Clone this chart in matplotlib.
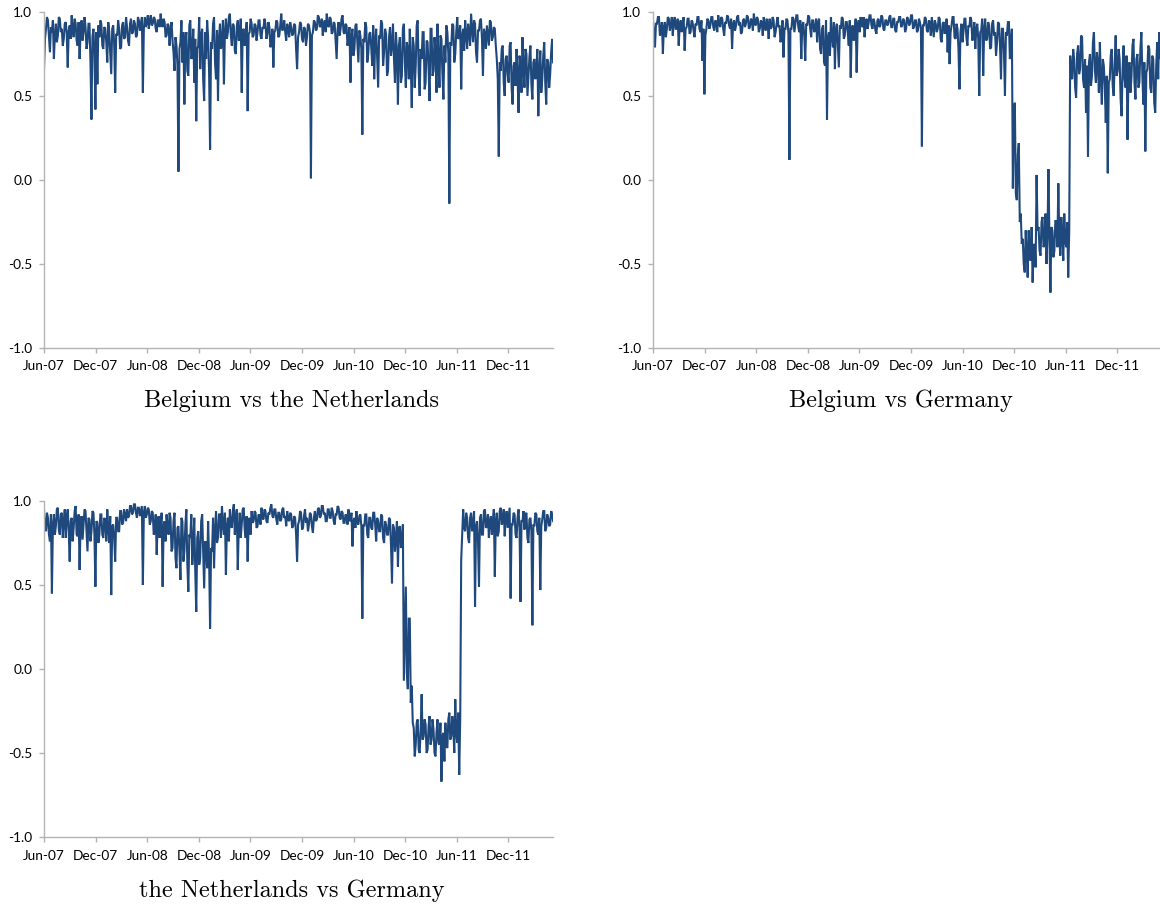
import matplotlib
matplotlib.use("Agg")
import matplotlib.pyplot as plt
import matplotlib.dates as mdates
import matplotlib.ticker as mticker
import pandas as pd

plt.rcParams["axes.unicode_minus"] = False

# Correlation readings, two per week, starting June 2007
start_date = "2007-06-01"
step = "84h"

be_nl = [
    0.66, 0.84, 0.90, 0.97, 0.95, 0.85, 0.76, 0.91, 0.88, 0.95, 0.72, 0.86,
    0.93, 0.82, 0.86, 0.97, 0.96, 0.88, 0.90, 0.80, 0.84, 0.93, 0.94, 0.87,
    0.67, 0.89, 0.92, 0.84, 0.98, 0.90, 0.85, 0.96, 0.93, 0.83, 0.80, 0.94,
    0.72, 0.88, 0.95, 0.83, 0.88, 0.97, 0.91, 0.78, 0.82, 0.93, 0.93, 0.70,
    0.36, 0.85, 0.90, 0.75, 0.42, 0.88, 0.57, 0.92,
    0.85, 0.95, 0.93, 0.80, 0.78, 0.91, 0.90, 0.82, 0.70, 0.94, 0.88, 0.76,
    0.63, 0.90, 0.92, 0.81, 0.52, 0.87, 0.86, 0.95, 0.90, 0.78, 0.79, 0.92,
    0.94, 0.84, 0.85, 0.97, 0.91, 0.83, 0.80, 0.93, 0.96, 0.87, 0.88, 0.95,
    0.93, 0.85, 0.86, 0.97,
    0.95, 0.89, 0.92, 0.97, 0.52, 0.90, 0.97, 0.91, 0.94, 0.98, 0.90, 0.95,
    0.98, 0.92, 0.93, 0.97, 0.96, 0.90, 0.88, 0.95, 0.95, 0.91, 0.99, 0.93,
    0.91, 0.96, 0.94, 0.85, 0.86, 0.93, 0.92, 0.80, 0.89, 0.94, 0.83, 0.76,
    0.65, 0.85, 0.80, 0.68, 0.05, 0.78,
    0.82, 0.95, 0.70, 0.88, 0.45, 0.83, 0.88, 0.65, 0.62, 0.92, 0.95, 0.72,
    0.75, 0.90, 0.58, 0.84, 0.35, 0.78, 0.80, 0.97, 0.66, 0.86, 0.90, 0.60,
    0.47, 0.88, 0.72, 0.95, 0.85, 0.64, 0.18, 0.82, 0.78, 0.93, 0.97, 0.70,
    0.60, 0.89, 0.47, 0.84,
    0.93, 0.78, 0.82, 0.95, 0.57, 0.88, 0.96, 0.84, 0.88, 0.97, 0.99, 0.86,
    0.80, 0.93, 0.92, 0.77, 0.75, 0.91, 0.95, 0.83, 0.86, 0.96, 0.52, 0.89,
    0.90, 0.80, 0.84, 0.94, 0.41, 0.87, 0.88, 0.96, 0.93, 0.85,
    0.86, 0.93, 0.92, 0.83, 0.88, 0.95, 0.95, 0.86, 0.84, 0.91, 0.90, 0.96,
    0.93, 0.84, 0.87, 0.94, 0.91, 0.79, 0.82, 0.90, 0.67, 0.88, 0.89, 0.95,
    0.94, 0.85, 0.86, 0.92, 0.99, 0.89, 0.90, 0.95, 0.88, 0.83, 0.93, 0.90,
    0.85, 0.94, 0.91, 0.86, 0.87, 0.93, 0.92, 0.78,
    0.66, 0.85, 0.88, 0.94, 0.93, 0.84, 0.82, 0.91, 0.90, 0.80, 0.85, 0.93,
    0.92, 0.88, 0.01, 0.86,
    0.88, 0.95, 0.94, 0.89, 0.90, 0.98, 0.97, 0.91, 0.92, 0.96, 0.86, 0.93,
    0.95, 0.88, 0.99, 0.92, 0.91, 0.97, 0.96, 0.87, 0.88, 0.94, 0.93, 0.83,
    0.72, 0.90, 0.94, 0.86, 0.90, 0.96, 0.98, 0.88, 0.87, 0.93, 0.92, 0.80,
    0.85, 0.91,
    0.58, 0.86, 0.90, 0.74, 0.78, 0.92, 0.93, 0.82, 0.70, 0.89, 0.86, 0.78,
    0.27, 0.84, 0.82, 0.94, 0.91, 0.70, 0.75, 0.87, 0.88, 0.79, 0.68, 0.92,
    0.60, 0.83, 0.90, 0.72, 0.55, 0.86, 0.84, 0.95, 0.93, 0.68, 0.76, 0.90,
    0.87, 0.62, 0.65, 0.85, 0.91, 0.74, 0.80, 0.93, 0.72, 0.58, 0.88, 0.76,
    0.45, 0.80, 0.85, 0.58, 0.62, 0.90, 0.93, 0.70, 0.55, 0.82, 0.78, 0.60,
    0.90, 0.68, 0.43, 0.85, 0.80, 0.55, 0.68, 0.92, 0.95, 0.64, 0.50, 0.78,
    0.72, 0.88, 0.88, 0.54, 0.58, 0.83, 0.82, 0.66, 0.47, 0.90, 0.90, 0.62,
    0.65, 0.85, 0.76, 0.52, 0.93, 0.70, 0.55, 0.86, 0.84, 0.63, 0.48, 0.80,
    0.70, 0.92, 0.88, 0.75,
    -0.14, 0.82,
    0.80, 0.93, 0.92, 0.70, 0.75, 0.88, 0.97, 0.84, 0.85, 0.92, 0.54, 0.86,
    0.90, 0.77, 0.95, 0.87, 0.78, 0.93, 0.88, 0.80, 0.99, 0.90, 0.82, 0.95,
    0.93, 0.76, 0.70, 0.89, 0.89, 0.95, 0.96, 0.84, 0.62, 0.90, 0.87, 0.78,
    0.92, 0.86, 0.80, 0.95, 0.94, 0.83, 0.85, 0.91, 0.90, 0.80,
    0.72, 0.60, 0.14, 0.70, 0.65, 0.78, 0.80, 0.58, 0.50, 0.72, 0.74, 0.63,
    0.58, 0.80, 0.82, 0.55, 0.45, 0.68, 0.70, 0.56, 0.78, 0.62, 0.40, 0.74,
    0.68, 0.52, 0.85, 0.66, 0.55, 0.78, 0.75, 0.50, 0.62, 0.73, 0.80, 0.57,
    0.48, 0.70, 0.72, 0.60, 0.66, 0.78, 0.38, 0.65, 0.77, 0.52, 0.60, 0.74,
    0.82, 0.58, 0.45, 0.72, 0.70, 0.55, 0.63, 0.76, 0.84, 0.70,
]

be_de = [
    0.95, 0.88, 0.79, 0.93, 0.93, 0.97, 0.97, 0.86, 0.88, 0.94, 0.75, 0.91,
    0.94, 0.85, 0.90, 0.97, 0.96, 0.89,
    0.92, 0.97, 0.86, 0.94, 0.97, 0.90, 0.90, 0.96, 0.80, 0.92, 0.95, 0.88,
    0.93, 0.97, 0.77, 0.90, 0.91, 0.96, 0.96, 0.87, 0.88, 0.95, 0.94, 0.89,
    0.85, 0.93, 0.92, 0.97, 0.97, 0.90,
    0.88, 0.95, 0.71, 0.90, 0.51, 0.86, 0.90, 0.96,
    0.95, 0.90, 0.92, 0.97, 0.97, 0.91, 0.89, 0.95, 0.94, 0.88, 0.98, 0.93,
    0.91, 0.97, 0.96, 0.90, 0.86, 0.94, 0.93, 0.98, 0.97, 0.92, 0.90, 0.96,
    0.78, 0.93, 0.95, 0.89, 0.92, 0.97, 0.98, 0.92, 0.94, 0.87, 0.88, 0.95,
    0.96, 0.91, 0.93, 0.98, 0.97, 0.90, 0.91, 0.96, 0.95, 0.89, 0.99, 0.93,
    0.92, 0.97, 0.96, 0.88, 0.90, 0.95, 0.94, 0.86, 0.97, 0.92, 0.89, 0.96,
    0.93, 0.84, 0.96, 0.90, 0.91, 0.97, 0.95, 0.85, 0.88, 0.93, 0.97, 0.91,
    0.92, 0.82, 0.86, 0.95, 0.73, 0.90, 0.90, 0.96, 0.95, 0.87,
    0.12, 0.90,
    0.90, 0.97, 0.96, 0.88, 0.93, 0.98, 0.98, 0.91, 0.88, 0.95, 0.72, 0.92,
    0.94, 0.86, 0.71, 0.93, 0.92, 0.98, 0.97, 0.90, 0.85, 0.95, 0.95, 0.88,
    0.90, 0.96,
    0.82, 0.94, 0.96, 0.78, 0.75, 0.90, 0.92, 0.70, 0.68, 0.95, 0.36, 0.85,
    0.88, 0.74, 0.97, 0.86, 0.79, 0.94, 0.66, 0.90, 0.93, 0.80, 0.67, 0.92,
    0.90, 0.97, 0.96, 0.84, 0.86, 0.94, 0.94, 0.88, 0.80, 0.95, 0.61, 0.90,
    0.92, 0.83, 0.88, 0.96, 0.64, 0.91, 0.95, 0.88, 0.97, 0.92, 0.91, 0.97,
    0.85, 0.93, 0.96, 0.90, 0.93, 0.98, 0.98, 0.92, 0.90, 0.96, 0.94, 0.89,
    0.87, 0.95, 0.96, 0.91, 0.92, 0.98, 0.97, 0.90, 0.89, 0.95, 0.95, 0.92,
    0.93, 0.97, 0.98, 0.91, 0.91, 0.96, 0.96, 0.89, 0.88, 0.94, 0.94, 0.97,
    0.97, 0.91, 0.92, 0.96, 0.95, 0.88, 0.90, 0.97, 0.96, 0.92, 0.93, 0.98,
    0.98, 0.90, 0.91, 0.95, 0.95, 0.88, 0.89, 0.96, 0.94, 0.90,
    0.20, 0.92,
    0.92, 0.97, 0.96, 0.89, 0.88, 0.95, 0.94, 0.86, 0.97, 0.91, 0.85, 0.95,
    0.93, 0.88, 0.90, 0.97, 0.96, 0.84, 0.82, 0.93, 0.94, 0.87, 0.89, 0.96,
    0.76, 0.92, 0.69, 0.88, 0.92, 0.97, 0.97, 0.85, 0.84, 0.93, 0.90, 0.78,
    0.54, 0.88, 0.93, 0.82, 0.88, 0.96, 0.96, 0.85, 0.80, 0.92, 0.91, 0.97,
    0.95, 0.83, 0.86, 0.94, 0.78, 0.90, 0.93, 0.84, 0.50, 0.88, 0.89, 0.96,
    0.62, 0.90, 0.96, 0.83, 0.84, 0.94, 0.92, 0.78, 0.79, 0.93, 0.95, 0.86,
    0.88, 0.74, 0.82, 0.94, 0.93, 0.80, 0.60, 0.90, 0.90, 0.76, 0.50, 0.88,
    0.86, 0.94, 0.94, 0.72, 0.80, 0.90,
    -0.05, 0.40, 0.46, -0.08, -0.12, 0.15, 0.22, -0.25, -0.20, -0.38,
    -0.35, -0.50, -0.55, -0.30, -0.42, -0.58, -0.30, -0.45, -0.48, -0.28,
    -0.61, -0.40, -0.38, -0.52,
    0.03, -0.30,
    -0.28, -0.42, -0.45, -0.25, -0.22, -0.40, -0.38, -0.20, -0.50, -0.32,
    0.065, -0.35, -0.67, -0.28, -0.30, -0.46, -0.42, -0.24, -0.25, -0.40,
    -0.02, -0.35, -0.45, -0.22, -0.33, -0.48, -0.20, -0.36, -0.40, -0.25,
    -0.58, -0.30,
    0.74, 0.62, 0.60, 0.78, 0.72, 0.55, 0.49, 0.75, 0.80, 0.63, 0.66, 0.86,
    0.85, 0.60, 0.55, 0.72, 0.40, 0.68, 0.14, 0.70, 0.75, 0.56, 0.62, 0.82,
    0.88, 0.65, 0.58, 0.76, 0.70, 0.52, 0.82, 0.60, 0.45, 0.72, 0.68, 0.55,
    0.34, 0.62, 0.04, 0.58, 0.60, 0.74, 0.78, 0.56, 0.50, 0.70, 0.86, 0.62,
    0.65, 0.78, 0.72, 0.48, 0.38, 0.66, 0.80, 0.60, 0.55, 0.74, 0.24, 0.68,
    0.70, 0.52, 0.62, 0.80, 0.84, 0.58, 0.48, 0.72, 0.75, 0.55, 0.58, 0.78,
    0.88, 0.62, 0.45, 0.70, 0.17, 0.64, 0.66, 0.80, 0.78, 0.55, 0.52, 0.74,
    0.72, 0.46, 0.40, 0.68, 0.82, 0.60, 0.88, 0.72, 0.85, 0.90,
]

nl_de = [
    0.95, 0.84, 0.82, 0.93, 0.90, 0.80, 0.76, 0.92, 0.45, 0.86,
    0.92, 0.80, 0.85, 0.95, 0.96, 0.83, 0.80, 0.92, 0.93, 0.78, 0.88, 0.95,
    0.78, 0.90, 0.95, 0.82, 0.64, 0.88, 0.90, 0.76, 0.84, 0.94, 0.97, 0.80,
    0.79, 0.92, 0.59, 0.86, 0.91, 0.77, 0.86, 0.95, 0.94, 0.82, 0.70, 0.90,
    0.89, 0.76, 0.82, 0.94, 0.93, 0.80, 0.49, 0.88, 0.87, 0.75, 0.80, 0.92,
    0.92, 0.80, 0.78, 0.90, 0.88, 0.76, 0.95, 0.84, 0.75, 0.91, 0.44, 0.85,
    0.86, 0.78, 0.64, 0.90, 0.90, 0.82, 0.82, 0.94, 0.94, 0.86, 0.87, 0.95,
    0.92, 0.88,
    0.95, 0.90, 0.91, 0.97, 0.97, 0.92, 0.93, 0.98, 0.98, 0.93, 0.90, 0.96,
    0.96, 0.91, 0.94, 0.97, 0.50, 0.93, 0.97, 0.90, 0.92, 0.96, 0.95, 0.86,
    0.88, 0.94, 0.93, 0.80, 0.82, 0.92, 0.68, 0.88, 0.91, 0.78, 0.86, 0.93,
    0.49, 0.85, 0.88, 0.76, 0.92, 0.84, 0.80, 0.93, 0.90, 0.70,
    0.72, 0.88, 0.93, 0.66, 0.60, 0.84, 0.85, 0.70, 0.53, 0.90, 0.88, 0.64,
    0.70, 0.86, 0.95, 0.62, 0.46, 0.80, 0.78, 0.92, 0.62, 0.74, 0.90, 0.58,
    0.34, 0.78, 0.82, 0.62, 0.66, 0.88, 0.92, 0.70, 0.48, 0.76, 0.75, 0.60,
    0.88, 0.66, 0.24, 0.72, 0.70, 0.90, 0.60, 0.82, 0.94, 0.75, 0.78, 0.92,
    0.92, 0.78, 0.97, 0.86, 0.80, 0.93, 0.56, 0.85, 0.90, 0.76, 0.95, 0.86,
    0.84, 0.94, 0.98, 0.80, 0.88, 0.95, 0.59, 0.84, 0.93, 0.78, 0.86, 0.95,
    0.96, 0.83, 0.78, 0.91, 0.64, 0.88, 0.90, 0.80, 0.94, 0.87,
    0.88, 0.94, 0.93, 0.84, 0.85, 0.92, 0.91, 0.86, 0.96, 0.90, 0.89, 0.95,
    0.94, 0.88, 0.87, 0.93, 0.92, 0.96, 0.98, 0.91, 0.90, 0.95, 0.95, 0.89,
    0.86, 0.93, 0.93, 0.88, 0.89, 0.95, 0.96, 0.90, 0.91, 0.85, 0.94, 0.89,
    0.88, 0.93, 0.92, 0.84, 0.85, 0.91, 0.90, 0.80, 0.64, 0.86,
    0.88, 0.94, 0.93, 0.83, 0.84, 0.91, 0.95, 0.87, 0.90, 0.82, 0.86, 0.93,
    0.92, 0.85, 0.81, 0.90, 0.94, 0.88, 0.89, 0.95, 0.96, 0.90, 0.91, 0.97,
    0.97, 0.92, 0.93, 0.88, 0.88, 0.95, 0.95, 0.90, 0.90, 0.96, 0.94, 0.88,
    0.86, 0.92, 0.92, 0.97, 0.96, 0.90, 0.89, 0.94, 0.93, 0.87, 0.87, 0.92,
    0.91, 0.86, 0.95, 0.89, 0.88, 0.93, 0.73, 0.88, 0.90, 0.84, 0.94, 0.87,
    0.86, 0.91, 0.92, 0.85,
    0.30, 0.86,
    0.85, 0.92, 0.92, 0.80, 0.78, 0.90, 0.90, 0.84, 0.83, 0.93, 0.93, 0.86,
    0.76, 0.90, 0.88, 0.82, 0.82, 0.92, 0.91, 0.78, 0.75, 0.88, 0.86, 0.80,
    0.80, 0.90, 0.89, 0.74, 0.51, 0.86, 0.84, 0.70, 0.78, 0.88, 0.61, 0.84,
    0.85, 0.72, 0.76, 0.86,
    -0.07, 0.20, 0.49, -0.02, -0.12, 0.30, 0.30, -0.20, -0.10, -0.32,
    -0.35, -0.52, -0.45, -0.32, -0.30, -0.48, -0.50, -0.36, -0.15, -0.42,
    -0.40, -0.30, -0.33, -0.50, -0.48, -0.34, -0.28, -0.45, -0.42, -0.30,
    -0.36, -0.50, -0.52, -0.38, -0.30, -0.44, -0.45, -0.32, -0.67, -0.40,
    -0.38, -0.55, -0.32, -0.46, -0.47, -0.30, -0.26, -0.42, -0.40, -0.28,
    -0.35, -0.50, -0.18, -0.38, -0.44, -0.26, -0.63, -0.30,
    0.65, 0.80, 0.95, 0.84,
    0.82, 0.93, 0.90, 0.78, 0.75, 0.90, 0.93, 0.82, 0.86, 0.94, 0.37, 0.85,
    0.88, 0.76, 0.49, 0.90, 0.92, 0.80, 0.80, 0.94, 0.95, 0.84, 0.85, 0.92,
    0.78, 0.88, 0.91, 0.80, 0.87, 0.95, 0.55, 0.88, 0.93, 0.79, 0.82, 0.94,
    0.96, 0.86, 0.88, 0.95, 0.79, 0.90, 0.94, 0.84, 0.90, 0.96, 0.42, 0.86,
    0.86, 0.93, 0.92, 0.80, 0.78, 0.90, 0.95, 0.84, 0.40, 0.88, 0.88, 0.94,
    0.83, 0.92, 0.93, 0.78, 0.75, 0.89, 0.90, 0.82, 0.26, 0.86, 0.85, 0.93,
    0.92, 0.82, 0.80, 0.90, 0.47, 0.85, 0.89, 0.94, 0.94, 0.82, 0.84, 0.92,
    0.90, 0.85, 0.86, 0.94, 0.92, 0.88,
]

titles = ["Belgium vs the Netherlands", "Belgium vs Germany",
          "the Netherlands vs Germany"]
y_ticks = [-1.0, -0.5, 0.0, 0.5, 1.0]

LINE = "#1F497D"
AXIS = "#B3B3B3"

W, H = 1160, 907
fig = plt.figure(figsize=(W / 100, H / 100), dpi=100)


def px_axes(left, top, right, bottom):
    return fig.add_axes([left / W, 1 - bottom / H, (right - left) / W,
                         (bottom - top) / H])


def draw(ax, values):
    dates = pd.date_range(start_date, periods=len(values), freq=step)
    ax.plot(dates, values, color=LINE, lw=1.5, solid_joinstyle="miter")
    ax.set_ylim(-1.0, 1.0)
    ax.set_xlim(pd.Timestamp("2007-06-01"), pd.Timestamp("2012-05-07"))
    ax.set_yticks(y_ticks)
    ax.yaxis.set_major_formatter(mticker.FormatStrFormatter("%.1f"))
    ax.xaxis.set_major_locator(mdates.MonthLocator(bymonth=[6, 12]))
    ax.xaxis.set_major_formatter(mdates.DateFormatter("%b-%y"))
    for side in ("top", "right"):
        ax.spines[side].set_visible(False)
    for side in ("left", "bottom"):
        ax.spines[side].set_color(AXIS)
        ax.spines[side].set_linewidth(1.0)
    ax.tick_params(axis="both", direction="out", length=3.5, width=1.0,
                   color=AXIS, labelsize=9.8, labelcolor="#000000")
    ax.tick_params(axis="y", pad=5)
    ax.tick_params(axis="x", pad=5.5)
    for lab in ax.get_xticklabels() + ax.get_yticklabels():
        lab.set_fontfamily("Lato")
    ax.set_facecolor("none")


ax1 = px_axes(44, 12, 553, 348)
ax2 = px_axes(653, 12, 1162, 348)
ax3 = px_axes(44, 501, 553, 837)

for ax, vals in zip((ax1, ax2, ax3), (be_nl, be_de, nl_de)):
    draw(ax, vals)

title_pos = [(292, 407.5), (901, 407.5), (292, 897)]
for (x, y), t in zip(title_pos, titles):
    fig.text(x / W, 1 - y / H, t, ha="center", va="baseline",
             fontfamily="cmr10", fontsize=17.5)

fig.savefig("out.png", dpi=100, facecolor="white")
